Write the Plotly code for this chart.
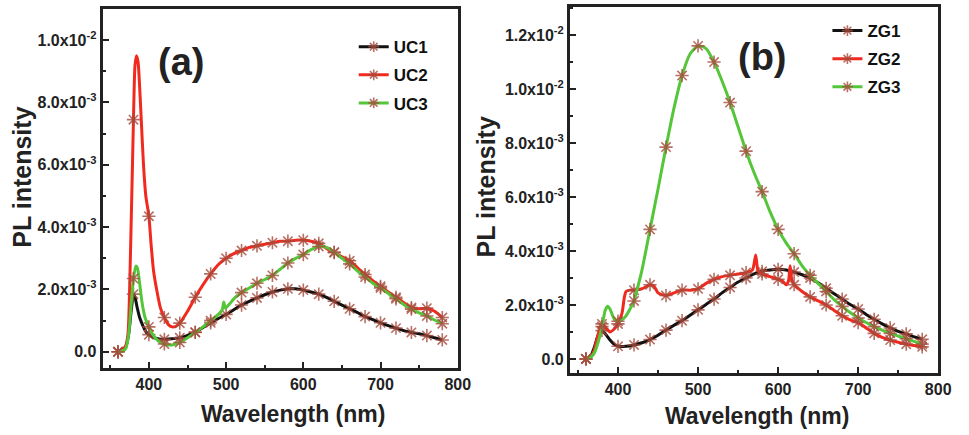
import plotly.graph_objects as go

# ---------------- data (PL intensity in units of 1e-3) ----------------
uc1_x = [360,365,370,374,377,380,382,385,388,392,396,400,405,410,420,430,440,450,460,470,480,490,500,510,520,530,540,550,560,570,580,590,600,610,620,630,640,650,660,670,680,690,700,710,720,730,740,750,760,770,780]
uc1_y = [0.0,0.02,0.15,0.6,1.3,1.85,1.75,1.4,1.1,0.85,0.65,0.55,0.47,0.43,0.4,0.42,0.45,0.53,0.63,0.78,0.93,1.07,1.2,1.35,1.5,1.62,1.73,1.83,1.92,1.98,2.02,2.02,1.98,1.92,1.85,1.75,1.62,1.5,1.38,1.26,1.13,1.03,0.93,0.84,0.76,0.68,0.62,0.58,0.52,0.45,0.38]

uc2_x = [360,365,370,373,376,380,382,384,386,388,390,393,396,400,403,406,410,415,420,425,430,435,440,450,460,470,480,490,500,510,520,530,540,550,560,570,580,590,600,610,620,630,640,650,660,670,680,690,700,710,720,730,740,750,760,770,780]
uc2_y = [0.0,0.05,0.2,0.6,3.0,7.45,9.2,9.5,9.3,8.5,7.5,6.0,5.0,4.35,3.4,2.6,2.0,1.4,1.1,0.88,0.8,0.82,0.92,1.3,1.75,2.15,2.5,2.8,3.0,3.15,3.25,3.35,3.4,3.45,3.5,3.55,3.55,3.58,3.58,3.55,3.48,3.32,3.18,3.05,2.92,2.7,2.48,2.28,2.1,1.92,1.75,1.58,1.42,1.38,1.4,1.3,1.1]

uc3_x = [360,365,370,374,377,380,383,385,388,391,395,400,405,410,415,420,425,430,440,450,460,470,480,490,495,497,499,505,510,520,530,540,550,560,570,580,590,600,610,620,630,640,650,660,670,680,690,700,710,720,730,740,750,760,770,780]
uc3_y = [0.0,0.02,0.1,0.6,1.5,2.35,2.75,2.7,2.2,1.6,1.1,0.8,0.55,0.4,0.3,0.25,0.22,0.22,0.3,0.45,0.62,0.8,1.0,1.2,1.35,1.6,1.4,1.55,1.7,1.9,2.05,2.2,2.32,2.45,2.65,2.85,3.0,3.12,3.28,3.38,3.35,3.2,3.0,2.82,2.6,2.4,2.2,2.05,1.87,1.7,1.52,1.37,1.25,1.15,1.02,0.9]

zg1_x = [360,365,370,375,380,385,390,395,400,410,420,430,440,450,460,470,480,490,500,510,520,530,540,550,560,570,580,590,600,610,620,630,640,650,660,670,680,690,700,710,720,730,740,750,760,770,780]
zg1_y = [0.0,0.05,0.4,0.85,1.05,0.9,0.7,0.55,0.47,0.47,0.52,0.6,0.72,0.88,1.07,1.25,1.42,1.62,1.82,2.02,2.22,2.45,2.65,2.85,3.0,3.15,3.25,3.3,3.32,3.3,3.22,3.12,3.0,2.82,2.62,2.42,2.22,2.02,1.85,1.65,1.47,1.3,1.15,1.02,0.93,0.82,0.73]

zg2_x = [360,365,370,375,380,385,390,395,400,405,408,410,415,420,430,440,445,450,460,470,480,490,500,510,520,530,540,550,560,568,572,575,580,590,600,605,610,613,615,617,620,630,640,650,660,670,680,690,700,710,720,730,740,750,760,770,780]
zg2_y = [0.0,0.05,0.3,0.9,1.3,1.15,1.0,1.1,1.3,1.7,2.3,2.5,2.55,2.55,2.6,2.75,2.7,2.45,2.35,2.45,2.55,2.55,2.6,2.8,2.95,3.05,3.1,3.15,3.2,3.3,3.85,3.25,3.15,3.05,2.95,2.9,2.75,2.9,3.45,2.95,2.75,2.5,2.3,2.15,2.0,1.8,1.6,1.45,1.35,1.15,0.95,0.8,0.7,0.62,0.55,0.5,0.45]

zg3_x = [360,365,370,375,380,384,387,390,395,400,405,410,415,420,425,430,440,450,460,470,480,490,500,510,520,530,540,550,560,570,580,590,600,610,620,630,640,650,660,670,680,690,700,710,720,730,740,750,760,770,780]
zg3_y = [0.0,0.05,0.2,0.6,1.2,1.8,1.95,1.85,1.5,1.4,1.45,1.6,1.85,2.15,2.7,3.3,4.8,6.3,7.85,9.3,10.5,11.3,11.6,11.5,11.0,10.3,9.5,8.6,7.7,6.9,6.2,5.45,4.8,4.3,3.9,3.45,3.1,2.8,2.5,2.2,1.95,1.72,1.52,1.35,1.2,1.07,0.95,0.85,0.75,0.65,0.55]

ytick_a_vals = [0, 2, 4, 6, 8, 10]
ytick_a_text = ["0.0", "2.0x10<sup>-3</sup>", "4.0x10<sup>-3</sup>", "6.0x10<sup>-3</sup>",
                "8.0x10<sup>-3</sup>", "1.0x10<sup>-2</sup>"]
ytick_b_vals = [0, 2, 4, 6, 8, 10, 12]
ytick_b_text = ["0.0", "2.0x10<sup>-3</sup>", "4.0x10<sup>-3</sup>", "6.0x10<sup>-3</sup>",
                "8.0x10<sup>-3</sup>", "1.0x10<sup>-2</sup>", "1.2x10<sup>-2</sup>"]
xtick_vals = [400, 500, 600, 700, 800]

BLACK = "#111111"
RED = "#f02a1e"
GREEN = "#55c63a"
MARK = "rgba(165,75,60,0.8)"
FONT = "Liberation Sans, Arial, sans-serif"

fig = go.Figure()

def add_series(xs, ys, color, name, xa, ya, legend):
    fig.add_trace(go.Scatter(x=xs, y=ys, mode="lines", line=dict(color=color, width=3, shape="spline", smoothing=0.6),
                             xaxis=xa, yaxis=ya, showlegend=False, hoverinfo="skip"))
    mx = [x for x in xs if x % 20 == 0]
    my = [y for x, y in zip(xs, ys) if x % 20 == 0]
    fig.add_trace(go.Scatter(x=mx, y=my, mode="markers",
                             marker=dict(symbol="asterisk-open", size=11, color=MARK,
                                         line=dict(color=MARK, width=1.6)),
                             xaxis=xa, yaxis=ya, showlegend=False, hoverinfo="skip"))
    fig.add_trace(go.Scatter(x=[None], y=[None], mode="lines+markers", name=name,
                             line=dict(color=color, width=3),
                             marker=dict(symbol="asterisk-open", size=9, color=MARK,
                                         line=dict(color=MARK, width=1.6)),
                             xaxis=xa, yaxis=ya, legend=legend, legendgroup=name))

add_series(uc1_x, uc1_y, BLACK, "UC1", "x", "y", "legend")
add_series(uc2_x, uc2_y, RED, "UC2", "x", "y", "legend")
add_series(uc3_x, uc3_y, GREEN, "UC3", "x", "y", "legend")
add_series(zg1_x, zg1_y, BLACK, "ZG1", "x2", "y2", "legend2")
add_series(zg2_x, zg2_y, RED, "ZG2", "x2", "y2", "legend2")
add_series(zg3_x, zg3_y, GREEN, "ZG3", "x2", "y2", "legend2")

tickfont = dict(family=FONT, size=16, color="#222", weight="bold")
axcommon = dict(showline=True, linewidth=3, linecolor="#222", mirror=True, ticks="inside",
                ticklen=6, tickwidth=2, tickcolor="#222", showgrid=False, zeroline=False,
                tickfont=tickfont)
minor_x = dict(dtick=50, tick0=350, ticks="inside", ticklen=3, tickwidth=2, tickcolor="#222")
minor_y = dict(dtick=1, tick0=0, ticks="inside", ticklen=3, tickwidth=2, tickcolor="#222")

fig.update_layout(
    width=969, height=435, margin=dict(l=0, r=0, t=0, b=0),
    paper_bgcolor="white", plot_bgcolor="white",
    xaxis=dict(domain=[0.1073, 0.4788], range=[340, 800], tickvals=xtick_vals, anchor="y", minor=minor_x, **axcommon),
    yaxis=dict(domain=[0.154, 0.9793], range=[-0.52, 11.0], tickvals=ytick_a_vals, ticktext=ytick_a_text,
               anchor="x", minor=minor_y, **axcommon),
    xaxis2=dict(domain=[0.5962, 0.9814], range=[340, 800], tickvals=xtick_vals, anchor="y2", minor=minor_x, **axcommon),
    yaxis2=dict(domain=[0.1425, 0.9839], range=[-0.52, 13.04], tickvals=ytick_b_vals, ticktext=ytick_b_text,
                anchor="x2", minor=minor_y, **axcommon),
    legend=dict(x=0.37, y=0.933, xanchor="left", yanchor="top", bgcolor="rgba(0,0,0,0)",
                font=dict(family=FONT, size=17, color="#111", weight="bold"), tracegroupgap=3,
                traceorder="grouped"),
    legend2=dict(x=0.8655, y=0.97, xanchor="left", yanchor="top", bgcolor="rgba(0,0,0,0)",
                 font=dict(family=FONT, size=17, color="#111", weight="bold"), tracegroupgap=3,
                 traceorder="grouped"),
)

ann_font = dict(family=FONT, color="#222", weight="bold")
def ann(text, px, py, size, angle=0):
    fig.add_annotation(text=text, x=px/969, y=1-py/435, xref="paper", yref="paper",
                       xanchor="center", yanchor="middle", textangle=angle,
                       showarrow=False, font=dict(size=size, **ann_font))

ann("Wavelength (nm)", 297, 414, 23)
ann("Wavelength (nm)", 767, 416, 23)
ann("PL intensity", 22, 177, 25, -90)
ann("PL intensity", 493, 187, 25, -90)
ann("(a)", 183, 62, 38)
ann("(b)", 773, 57, 38)

fig.write_html("out.html", config={"displayModeBar": False},
               post_script="document.body.style.margin='0px';")
